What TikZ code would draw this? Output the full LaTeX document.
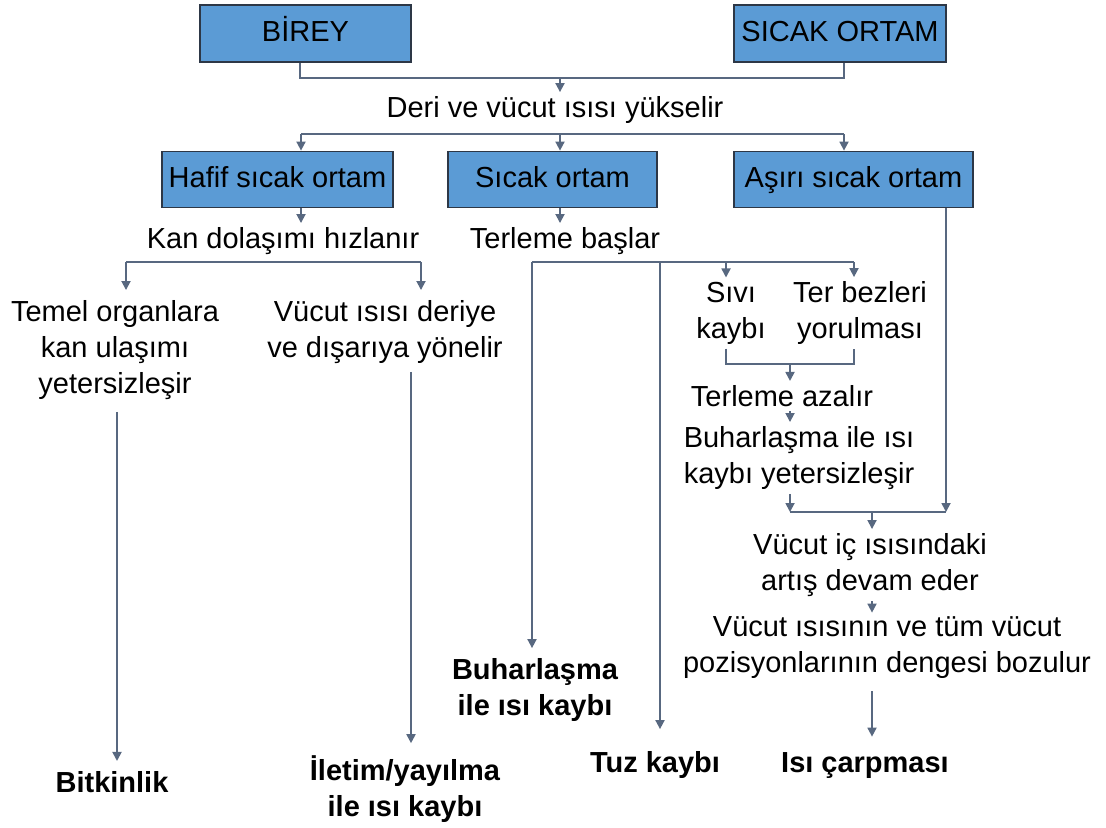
\documentclass[tikz,border=0pt]{standalone}
\usepackage{fontspec}
\setmainfont{Liberation Sans}
\usetikzlibrary{arrows.meta,positioning}
\definecolor{kutumavi}{RGB}{91,155,213}
\definecolor{kutucizgi}{RGB}{45,55,70}
\definecolor{okrengi}{RGB}{88,104,128}

\tikzset{
  kutu/.style={draw=kutucizgi, line width=0.9pt, fill=kutumavi, inner sep=0pt,
    text height=11pt, text depth=3.5pt, font=\fontsize{14.5}{18}\selectfont},
  metin/.style={inner sep=0pt, align=center, font=\fontsize{14.5}{18}\selectfont},
  sonuc/.style={inner sep=0pt, align=center, font=\fontsize{14.5}{18}\selectfont\bfseries},
  hat/.style={draw=okrengi, line width=0.9pt},
  ok/.style={hat, -{Triangle[width=4.5pt,length=4.5pt]}},
}

\begin{document}
\begin{tikzpicture}[x=0.5pt, y=-0.5pt]
\useasboundingbox (0,0) rectangle (1106,827);

% ust kutular
\node[kutu, minimum width=105.5pt, minimum height=28.5pt] (birey) at (305.5,33.5) {BİREY};
\node[kutu, minimum width=106pt, minimum height=28.5pt] (ortam) at (840,33.5) {SICAK ORTAM};
\node[metin] (deri) at (555,110) {Deri ve vücut ısısı yükselir};

% ikinci sira kutular
\node[kutu, minimum width=115.5pt, minimum height=28pt] (hafif) at (277.5,179.5) {Hafif sıcak ortam};
\node[kutu, minimum width=104.5pt, minimum height=28pt] (sicak) at (552.5,179.5) {Sıcak ortam};
\node[kutu, minimum width=119.5pt, minimum height=28pt] (asiri) at (853.5,179.5) {Aşırı sıcak ortam};

% hafif sicak ortam kolu
\node[metin] (kan) at (283,241) {Kan dolaşımı hızlanır};
\node[metin] (temel) at (115,350) {Temel organlara\\kan ulaşımı\\yetersizleşir};
\node[metin] (deriye) at (385,332) {Vücut ısısı deriye\\ve dışarıya yönelir};
\node[sonuc] (bitkin) at (112,782) {Bitkinlik};
\node[sonuc] (iletim) at (405,789) {İletim/yayılma\\ile ısı kaybı};

% sicak ortam kolu
\node[metin] (terleme) at (565,241) {Terleme başlar};
\node[metin] (sivi) at (731,313) {Sıvı\\kaybı};
\node[metin] (bez) at (860,313) {Ter bezleri\\yorulması};
\node[metin] (azalir) at (782,396) {Terleme azalır};
\node[metin] (yetersiz) at (799,458) {Buharlaşma ile ısı\\kaybı yetersizleşir};
\node[sonuc] (buhar) at (535,690) {Buharlaşma\\ile ısı kaybı};
\node[sonuc] (tuz) at (655,765) {Tuz kaybı};

% asiri sicak ortam kolu
\node[metin] (artis) at (870,565) {Vücut iç ısısındaki\\artış devam eder};
\node[metin] (denge) at (887,648) {Vücut ısısının ve tüm vücut\\pozisyonlarının dengesi bozulur};
\node[sonuc] (carpma) at (865,766) {Isı çarpması};

% baglanti noktalari
\coordinate (a1) at (300,78);
\coordinate (a2) at (844,78);
\coordinate (a3) at (560,78);
\coordinate (b1) at (301,134);
\coordinate (b2) at (844,134);
\coordinate (b3) at (560,134);
\coordinate (c1) at (126,262);
\coordinate (c2) at (421,262);
\coordinate (d1) at (532,262);
\coordinate (d2) at (854,262);
\coordinate (d3) at (660,262);
\coordinate (d4) at (726,262);
\coordinate (e1) at (726,364);
\coordinate (e2) at (854,364);
\coordinate (e3) at (790,364);
\coordinate (f1) at (790,512);
\coordinate (f2) at (946,512);
\coordinate (f3) at (872,512);

% baglantilar
\draw[hat] (birey.south -| a1) |- (a2) -- (ortam.south -| a2);
\draw[ok] (a3) -- ([yshift=2pt]deri.north -| a3);
\draw[hat] (b1) -- (b2);
\draw[ok] (b1) -- (hafif.north -| b1);
\draw[ok] (b3) -- (sicak.north -| b3);
\draw[ok] (b2) -- (asiri.north -| b2);

\draw[ok] (hafif.south -| b1) -- ([yshift=2pt]kan.north -| b1);
\draw[hat] (c1) -- (c2);
\draw[ok] (c1) -- ([yshift=5pt]temel.north -| c1);
\draw[ok] (c2) -- ([yshift=5pt]deriye.north -| c2);
\draw[ok] ([yshift=-6pt]temel.south -| 117,0) -- ([yshift=5pt]bitkin.north -| 117,0);
\draw[ok] ([yshift=-4pt]deriye.south -| 411,0) -- ([yshift=6pt]iletim.north -| 411,0);

\draw[ok] (sicak.south -| b3) -- ([yshift=2pt]terleme.north -| b3);
\draw[hat] (d1) -- (d2);
\draw[ok] (d1) -- ([yshift=5pt]buhar.north -| d1);
\draw[ok] (d3) -- ([yshift=11pt]tuz.north -| d3);
\draw[ok] (d4) -- ([yshift=2pt]sivi.north -| d4);
\draw[ok] (d2) -- ([yshift=2pt]bez.north -| d2);
\draw[hat] ([yshift=-2pt]sivi.south -| e1) |- (e3) -| ([yshift=-2pt]bez.south -| e2);
\draw[ok] (e3) -- ([yshift=2pt]azalir.north -| e3);
\draw[ok] ([yshift=-2pt]azalir.south -| e3) -- ([yshift=2pt]yetersiz.north -| e3);
\draw[ok] ([yshift=-2pt]yetersiz.south -| f1) -- (f1);
\draw[ok] (asiri.south -| f2) -- (f2);
\draw[hat] (f1) -- (f2);
\draw[ok] (f3) -- ([yshift=2pt]artis.north -| f3);
\draw[ok] ([yshift=-2pt]artis.south -| f3) -- ([yshift=2pt]denge.north -| f3);
\draw[ok] ([yshift=-6pt]denge.south -| f3) -- ([yshift=8pt]carpma.north -| f3);
\end{tikzpicture}
\end{document}
